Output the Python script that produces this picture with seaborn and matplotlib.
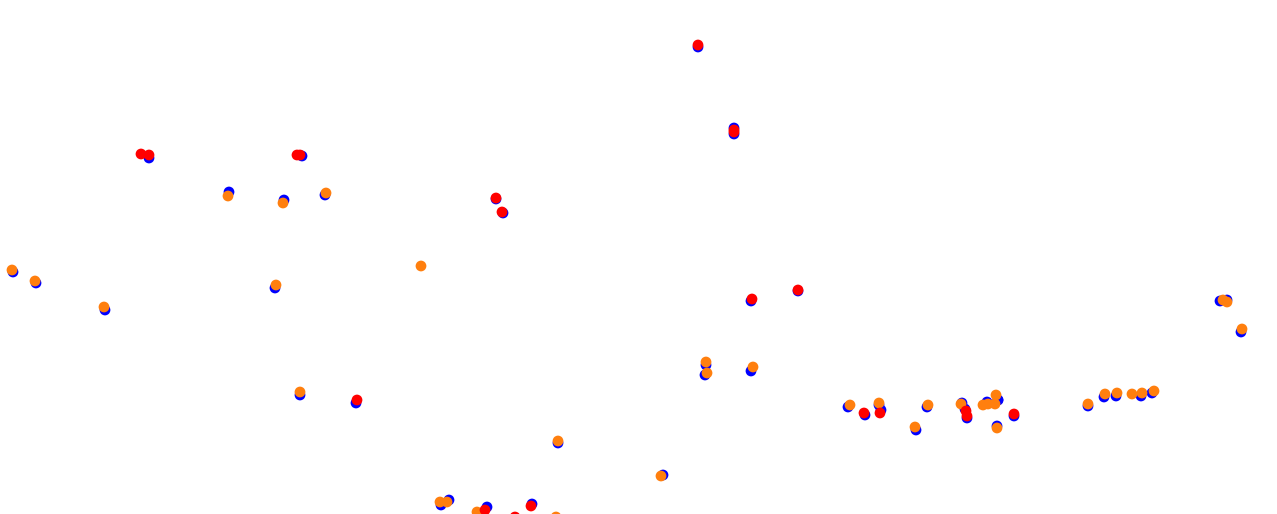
import matplotlib
matplotlib.use("Agg")
import matplotlib.pyplot as plt
import seaborn as sns
import pandas as pd

# Base series (blue)
base_x = [698, 734, 734, 149, 302, 229, 284, 325, 496, 503, 13, 36, 105, 275, 751, 798,
          1220, 1227, 1241, 706, 705, 751, 300, 356, 558, 663, 441, 449, 487, 532,
          848, 865, 879, 881, 927, 916, 962, 965, 967, 987, 998, 997, 1014, 998,
          1088, 1104, 1116, 1141, 1152]
base_y = [47, 128, 134, 158, 156, 192, 200, 195, 199, 213, 272, 283, 310, 288, 301, 291,
          301, 300, 332, 365, 375, 371, 395, 403, 443, 475, 505, 500, 507, 504,
          407, 415, 405, 410, 407, 430, 403, 409, 418, 402, 400, 426, 416, 400,
          406, 397, 396, 396, 393]

# Overlay series: orange (group A) and red (group B)
orange_x = [228, 283, 326, 12, 35, 104, 276, 421, 1223, 1227, 1242, 706, 707, 753,
            300, 558, 661, 440, 447, 477, 556, 850, 879, 928, 915, 961, 983, 988,
            995, 996, 997, 1088, 1105, 1117, 1132, 1142, 1154]
orange_y = [196, 203, 193, 270, 281, 307, 285, 266, 300, 302, 329, 362, 373, 367,
            392, 441, 476, 502, 502, 512, 517, 405, 403, 405, 427, 404, 405, 404,
            404, 395, 428, 404, 394, 393, 394, 393, 391]

red_x = [698, 734, 734, 141, 149, 297, 300, 496, 502, 752, 798, 357, 485, 531, 515,
         864, 880, 966, 967, 1014]
red_y = [45, 130, 132, 154, 155, 155, 155, 198, 212, 299, 290, 400, 510, 506, 517,
         413, 413, 411, 416, 414]

df = pd.concat([
    pd.DataFrame({"x": base_x, "y": base_y, "group": "base"}),
    pd.DataFrame({"x": orange_x, "y": orange_y, "group": "orange"}),
    pd.DataFrame({"x": red_x, "y": red_y, "group": "red"}),
], ignore_index=True)

palette = {"base": "#0000ff", "orange": "#ff7f0e", "red": "#ff0000"}

fig = plt.figure(figsize=(12.77, 5.14), dpi=100)
ax = fig.add_axes([0, 0, 1, 1])
sns.scatterplot(data=df, x="x", y="y", hue="group", palette=palette,
                s=60, linewidth=0, legend=False, ax=ax)
ax.set_xlim(0, 1277)
ax.set_ylim(514, 0)
ax.axis("off")
fig.savefig("out.png", dpi=100, facecolor="white")
